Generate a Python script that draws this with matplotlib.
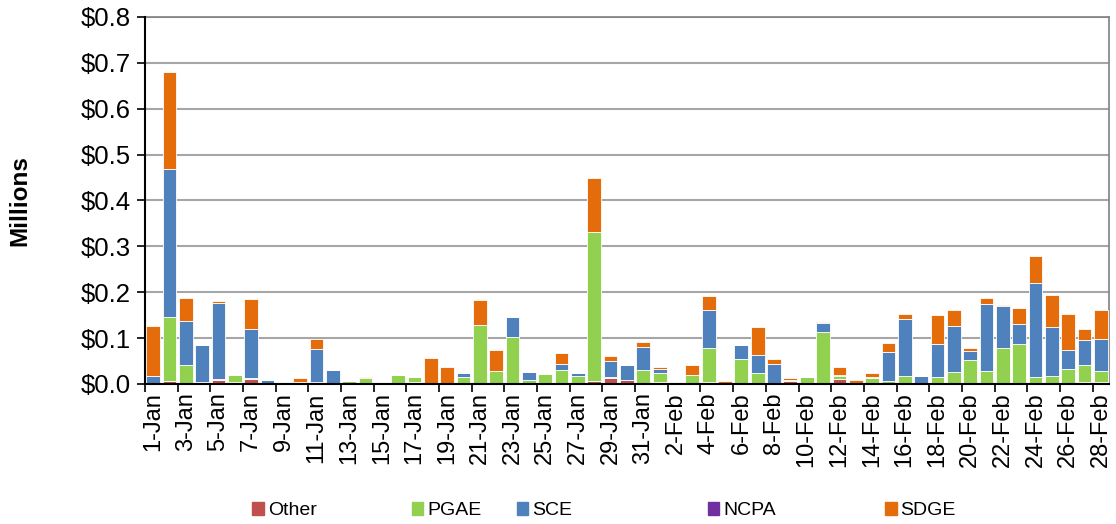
import numpy as np
import matplotlib
matplotlib.use("Agg")
import matplotlib.pyplot as plt
from matplotlib.patches import Patch

plt.rcParams["font.family"] = ["Liberation Sans", "DejaVu Sans"]

jan = [f"{d}-Jan" for d in range(1, 32)]
feb = [f"{d}-Feb" for d in range(1, 29)]
days = jan + feb

other = [0.001, 0.006, 0.002, 0.004, 0.008, 0.004, 0.011, 0.001, 0.001, 0.001,
         0.005, 0.002, 0.001, 0.0, 0.0, 0.001, 0.004, 0.0, 0.001, 0.001,
         0.0, 0.0, 0.0, 0.0, 0.001, 0.0, 0.0, 0.007, 0.013, 0.009,
         0.002, 0.005, 0.0, 0.0, 0.004, 0.001, 0.0, 0.0, 0.0, 0.007,
         0.0, 0.0, 0.010, 0.001, 0.0, 0.0, 0.0, 0.0, 0.0, 0.0,
         0.0, 0.0, 0.0, 0.0, 0.003, 0.0, 0.0, 0.004, 0.004]
pgae = [0.0, 0.141, 0.039, 0.0, 0.002, 0.016, 0.001, 0.0, 0.0, 0.003,
        0.0, 0.0, 0.006, 0.012, 0.0, 0.019, 0.012, 0.003, 0.0, 0.014,
        0.129, 0.029, 0.103, 0.009, 0.021, 0.031, 0.018, 0.324, 0.003, 0.0,
        0.028, 0.020, 0.0, 0.020, 0.074, 0.0, 0.055, 0.025, 0.0, 0.002,
        0.016, 0.114, 0.007, 0.0, 0.014, 0.007, 0.017, 0.0, 0.015, 0.027,
        0.053, 0.029, 0.079, 0.087, 0.012, 0.018, 0.033, 0.038, 0.025]
sce = [0.016, 0.321, 0.097, 0.082, 0.166, 0.0, 0.107, 0.007, 0.0, 0.0,
       0.071, 0.029, 0.0, 0.002, 0.0, 0.0, 0.0, 0.0, 0.0, 0.008,
       0.0, 0.0, 0.042, 0.018, 0.0, 0.013, 0.007, 0.0, 0.034, 0.032,
       0.050, 0.008, 0.0, 0.0, 0.084, 0.002, 0.029, 0.039, 0.044, 0.0,
       0.0, 0.020, 0.002, 0.0, 0.001, 0.062, 0.125, 0.017, 0.072, 0.099,
       0.018, 0.145, 0.090, 0.043, 0.205, 0.107, 0.041, 0.053, 0.069]
ncpa = [0.0] * 59
sdge = [0.109, 0.213, 0.049, 0.0, 0.004, 0.0, 0.067, 0.0, 0.0, 0.010,
        0.022, 0.0, 0.0, 0.002, 0.0, 0.0, 0.0, 0.054, 0.035, 0.0,
        0.055, 0.044, 0.0, 0.0, 0.0, 0.024, 0.0, 0.117, 0.011, 0.0,
        0.011, 0.003, 0.002, 0.022, 0.030, 0.003, 0.0, 0.060, 0.011, 0.005,
        0.0, 0.002, 0.019, 0.008, 0.009, 0.020, 0.010, 0.0, 0.064, 0.036,
        0.008, 0.013, 0.003, 0.036, 0.060, 0.070, 0.078, 0.025, 0.064]

series = [("Other", other, "#C0504D"),
          ("PGAE", pgae, "#92D050"),
          ("SCE", sce, "#4F81BD"),
          ("NCPA", ncpa, "#7030A0"),
          ("SDGE", sdge, "#E46C0A")]

fig = plt.figure(figsize=(11.16, 5.24), dpi=100)
ax = fig.add_axes([0.1299, 0.2672, 0.9937 - 0.1299, 0.9676 - 0.2672])

x = np.arange(len(days))
bottom = np.zeros(len(days))
for name, vals, col in series:
    v = np.array(vals)
    ax.bar(x, v, 0.84, bottom=bottom, color=col, edgecolor="white",
           linewidth=0.6, zorder=3, label=name)
    bottom += v

ax.set_xlim(-0.5, len(days) - 0.5)
ax.set_ylim(0, 0.8)
ax.set_yticks(np.arange(0, 0.81, 0.1))
ax.set_yticklabels([f"${v:.1f}" for v in np.arange(0, 0.81, 0.1)], fontsize=18.5)
ax.yaxis.grid(True, color="#a6a6a6", linewidth=1.5, zorder=0)

# ticks between categories, labels on every other day
ax.set_xticks(np.arange(-0.5, len(days) - 1, 2))
ax.set_xticklabels([])
ax.set_xticks(x[::2], minor=True)
ax.set_xticklabels(days[::2], minor=True, rotation=90, fontsize=17)
ax.tick_params(axis="x", which="minor", length=0, pad=6)
ax.tick_params(axis="x", which="major", length=6, width=1.2, direction="out")
ax.tick_params(axis="y", length=6, width=1.2, direction="out", pad=4)

for s in ["left", "bottom"]:
    ax.spines[s].set_color("black")
    ax.spines[s].set_linewidth(1.5)
    ax.spines[s].set_zorder(4)
for s in ["top", "right"]:
    ax.spines[s].set_color("#808080")
    ax.spines[s].set_linewidth(1.2)

fig.text(0.018, 0.618, "Millions", rotation=90, fontsize=17.5, fontweight="bold",
         ha="center", va="center")

# legend entries spread along the bottom
leg_x = [0.226, 0.369, 0.463, 0.634, 0.793]
for (name, vals, col), lx in zip(series, leg_x):
    fig.legend(handles=[Patch(color=col, label=name)], loc="center left",
               bbox_to_anchor=(lx, 0.025), frameon=False, fontsize=14,
               handlelength=0.6, handleheight=0.6, handletextpad=0.2,
               borderpad=0, borderaxespad=0)

fig.savefig("out.png", dpi=100)
